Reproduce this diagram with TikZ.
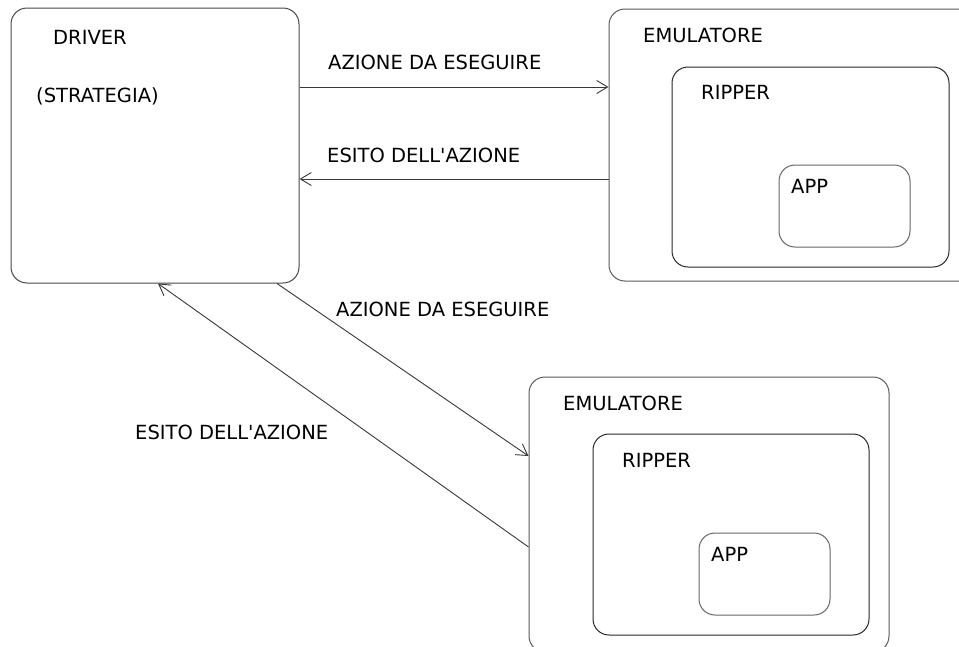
\documentclass[tikz,border=0pt]{standalone}
\usepackage{fontspec}
\setmainfont{DejaVu Sans}[Ligatures=TeXOff]
\usetikzlibrary{arrows.meta}

\begin{document}
\begin{tikzpicture}[x=1pt,y=-1pt,
  box/.style={draw=black!72,line width=1pt,rounded corners=16pt,
    inner sep=0pt,minimum width=#1},
  lbl/.style={anchor=base west,inner sep=0pt,text=black,
    font=\fontsize{19.5}{23}\selectfont},
  arr/.style={draw=black!78,line width=0.9pt,
    -{Straight Barb[length=11pt,width=13pt,line width=0.9pt]}}]
\useasboundingbox (0,0) rectangle (959,646);
\clip (0,0) rectangle (959,646);

% driver block
\node[box=288pt,minimum height=275pt] (driver) at (155,145.5) {};
\node[lbl] (tdriver) at (53,44) {DRIVER};
\node[lbl] (tstrat) at (36,102) {(STRATEGIA)};

% first emulator (runs past the right edge)
\node[box=391pt,minimum height=272pt,draw=black!65] (emuA) at (804.5,145) {};
\node[box=277pt,minimum height=200pt,draw=black!85] (ripA) at (810.5,167) {};
\node[box=131pt,minimum height=82pt,draw=black!60] (appA) at (844.5,206) {};
\node[lbl] (temuA) at (643,42) {EMULATORE};
\node[lbl] (tripA) at (701,99) {RIPPER};
\node[lbl] (tappA) at (791,193) {APP};

% second emulator (runs past the bottom edge)
\node[box=360pt,minimum height=275pt,draw=black!65] (emuB) at (709,514.5) {};
\node[box=276pt,minimum height=201pt,draw=black!85] (ripB) at (731,534.5) {};
\node[box=131pt,minimum height=82pt,draw=black!60] (appB) at (764.5,574) {};
\node[lbl] (temuB) at (563,410) {EMULATORE};
\node[lbl] (tripB) at (622,467) {RIPPER};
\node[lbl] (tappB) at (711,561) {APP};

% messages between driver and first emulator
\draw[arr] ([yshift=58.5pt]driver.east) -- ([yshift=58pt]emuA.west);
\draw[arr] ([yshift=-34pt]emuA.west) -- ([yshift=-33.5pt]driver.east);
\node[lbl] (la1) at (328,69) {AZIONE DA ESEGUIRE};
\node[lbl] (le1) at (327,162) {ESITO DELL'AZIONE};

% messages between driver and second emulator
\draw[arr] ([xshift=122pt]driver.south) -- ([yshift=58.5pt]emuB.west);
\draw[arr] ([yshift=-32.5pt]emuB.west) -- ([xshift=3pt]driver.south);
\node[lbl] (la2) at (336,316) {AZIONE DA ESEGUIRE};
\node[lbl] (le2) at (135,439) {ESITO DELL'AZIONE};
\end{tikzpicture}
\end{document}
